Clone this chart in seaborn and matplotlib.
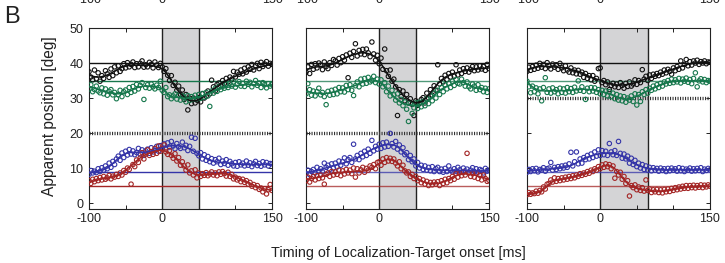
import numpy as np
import pandas as pd
import seaborn as sns
import matplotlib.pyplot as plt

# time samples (ms)
t_fit = np.arange(-100, 151, 5)
t_pts = np.arange(-100, 150.1, 2.5)

# ---------------- panel 1 ----------------
p1_black_fit = [36.6, 36.2, 36.0, 36.0, 36.2, 36.6, 37.1, 37.7, 38.3, 38.8, 39.1, 39.3, 39.4, 39.4, 39.4, 39.4, 39.4,
                39.3, 39.1, 38.8, 38.3, 37.3, 35.8, 34.0, 32.5, 31.3, 30.3, 29.6, 29.2, 29.2, 29.5, 30.2, 31.0, 31.8,
                32.6, 33.3, 34.0, 34.6, 35.2, 35.7, 36.2, 36.7, 37.1, 37.5, 37.9, 38.3, 38.6, 38.9, 39.2, 39.4, 39.6]
p1_green_fit = [33.3, 33.0, 32.6, 32.3, 32.0, 31.7, 31.5, 31.3, 31.2, 31.3, 31.5, 31.9, 32.4, 32.9, 33.2, 33.4, 33.4,
                33.3, 33.2, 33.0, 32.6, 31.7, 30.8, 30.3, 30.2, 30.1, 30.0, 29.9, 29.9, 30.0, 30.2, 30.6, 31.0, 31.5,
                31.9, 32.3, 32.6, 32.9, 33.1, 33.3, 33.5, 33.6, 33.7, 33.8, 33.8, 33.8, 33.7, 33.7, 33.6, 33.5, 33.5]
p1_blue_fit = [8.6, 8.8, 9.0, 9.2, 9.5, 10.0, 10.8, 11.8, 12.8, 13.6, 14.1, 14.4, 14.5, 14.5, 14.5, 14.5, 14.6, 14.8,
               15.1, 15.4, 15.8, 16.1, 16.3, 16.4, 16.4, 16.3, 16.1, 15.7, 15.2, 14.6, 14.0, 13.3, 12.7, 12.2, 11.9,
               11.7, 11.6, 11.5, 11.4, 11.3, 11.2, 11.1, 11.0, 11.0, 11.0, 11.0, 11.0, 11.0, 11.0, 11.0, 11.0]
p1_red_fit = [5.8, 6.2, 6.5, 6.8, 7.0, 7.1, 7.3, 7.6, 8.0, 8.6, 9.4, 10.3, 11.2, 12.1, 12.9, 13.6, 14.1, 14.5, 14.8,
              15.0, 15.0, 14.8, 14.2, 13.4, 12.4, 11.3, 10.3, 9.4, 8.7, 8.2, 8.0, 8.0, 8.1, 8.2, 8.3, 8.4, 8.4, 8.4,
              8.3, 8.0, 7.6, 7.1, 6.6, 6.1, 5.6, 5.1, 4.7, 4.3, 4.0, 3.8, 3.7]

p1_black_pts = [37.5, 36.0, 35.2, 38.0, 35.5, 37.2, 34.8, 36.4, 35.6, 37.8, 36.9, 35.9, 38.3, 36.4, 38.9, 37.2,
                39.2, 37.6, 38.4, 39.8, 38.6, 40.1, 38.9, 39.6, 40.3, 38.7, 39.8, 38.9, 39.9, 40.6, 38.8, 39.5,
                38.9, 40.2, 39.6, 38.6, 40.3, 39.4, 38.7, 39.9, 38.9, 37.6, 38.4, 36.5, 35.0, 36.4, 33.6, 34.5,
                32.2, 33.4, 31.0, 32.3, 29.6, 31.0, 26.6, 29.9, 28.4, 30.0, 28.6, 29.4, 30.1, 28.9, 31.2, 30.0,
                30.5, 32.0, 31.2, 35.1, 33.2, 32.0, 33.9, 34.3, 33.5, 35.0, 34.2, 35.6, 34.6, 36.0, 35.4, 37.6,
                36.0, 37.4, 36.8, 38.0, 36.9, 38.5, 37.4, 38.9, 38.2, 39.6, 38.0, 39.3, 39.9, 38.4, 40.2, 39.0,
                39.7, 40.4, 39.1, 39.9, 39.6]
p1_green_pts = [32.6, 33.8, 31.8, 32.4, 33.4, 32.0, 31.5, 32.9, 31.2, 32.6, 30.8, 31.9, 32.4, 30.9, 31.6, 29.8,
                31.0, 32.2, 30.4, 31.8, 32.3, 31.0, 33.0, 31.6, 33.3, 32.0, 33.9, 32.6, 33.6, 34.4, 29.6, 33.0,
                33.8, 32.8, 34.0, 33.2, 32.6, 33.7, 33.0, 34.8, 32.2, 31.6, 33.0, 30.4, 30.9, 29.8, 30.6, 31.2,
                29.7, 30.8, 29.4, 30.6, 30.2, 28.9, 30.7, 29.3, 30.4, 29.6, 30.8, 29.8, 31.0, 29.9, 31.3, 30.2,
                31.6, 30.6, 27.6, 32.0, 31.4, 32.8, 31.9, 33.3, 32.4, 33.6, 32.8, 33.9, 33.0, 34.2, 33.4, 34.6,
                33.1, 34.0, 34.7, 33.4, 34.2, 33.3, 34.8, 33.9, 34.5, 33.2, 34.1, 35.0, 33.6, 34.3, 33.0, 34.4,
                33.8, 32.9, 34.1, 33.4, 33.9]
p1_blue_pts = [8.2, 9.3, 8.6, 9.1, 8.7, 9.8, 9.0, 10.1, 9.4, 10.6, 9.8, 11.4, 10.2, 11.9, 11.0, 12.6,
               13.4, 12.2, 14.3, 13.0, 14.8, 13.7, 15.3, 14.0, 14.9, 13.8, 14.4, 15.6, 14.0, 15.2, 13.6, 14.9,
               15.4, 14.2, 15.8, 14.6, 15.0, 16.2, 14.8, 16.4, 15.6, 16.9, 15.4, 17.2, 16.0, 17.6, 16.3, 15.5,
               17.0, 16.1, 15.6, 17.4, 15.8, 16.5, 15.0, 16.2, 18.8, 14.8, 18.5, 14.2, 13.5, 14.4, 12.6, 13.8,
               12.2, 13.3, 11.8, 12.7, 11.4, 12.4, 11.8, 12.8, 11.0, 12.0, 11.3, 12.4, 10.8, 11.9, 11.2, 10.6,
               11.6, 10.5, 11.8, 10.9, 11.4, 10.6, 12.0, 10.8, 11.5, 10.4, 11.2, 11.9, 10.7, 11.3, 10.5, 11.8,
               10.9, 11.6, 10.6, 11.3, 11.2]
p1_red_pts = [6.4, 5.6, 6.8, 6.1, 7.0, 6.4, 7.3, 6.6, 7.6, 6.8, 7.2, 7.9, 6.9, 7.7, 7.4, 8.2,
              7.6, 8.6, 8.0, 9.3, 8.8, 10.0, 9.6, 5.4, 11.0, 10.4, 12.3, 11.6, 12.9, 14.4, 12.6, 14.0,
              15.2, 13.6, 14.7, 13.9, 15.6, 14.2, 16.3, 14.8, 15.4, 16.6, 14.6, 13.9, 15.0, 13.6, 12.8, 14.1,
              12.0, 13.0, 10.8, 11.8, 10.6, 9.4, 10.9, 8.6, 9.2, 8.0, 9.5, 7.2, 8.6, 7.6, 8.4, 7.9,
              8.7, 7.8, 8.3, 8.9, 8.0, 8.6, 7.8, 8.9, 8.2, 9.0, 8.4, 7.7, 8.8, 7.6, 8.2, 6.9,
              7.4, 6.6, 7.0, 6.1, 6.8, 5.9, 6.4, 5.4, 5.9, 4.8, 5.3, 4.4, 5.0, 3.9, 4.3, 3.2,
              4.1, 2.6, 3.8, 5.3, 3.6]

# ---------------- panel 2 ----------------
p2_black_fit = [38.1, 38.4, 38.7, 38.9, 39.0, 39.1, 39.3, 39.6, 40.0, 40.5, 41.0, 41.5, 42.0, 42.4, 42.7, 42.9, 42.9,
                42.7, 42.3, 41.6, 40.6, 39.0, 37.3, 35.6, 34.1, 32.7, 31.4, 30.4, 29.6, 29.0, 28.7, 28.7, 29.3, 30.3,
                31.5, 32.9, 34.1, 35.1, 35.9, 36.5, 36.9, 37.2, 37.5, 37.7, 37.9, 38.1, 38.2, 38.3, 38.4, 38.5, 38.6]
p2_green_fit = [31.9, 31.7, 31.5, 31.4, 31.3, 31.3, 31.4, 31.6, 31.8, 32.1, 32.4, 32.8, 33.1, 33.4, 33.8, 34.3, 34.8,
                35.1, 35.2, 35.0, 34.6, 33.8, 32.6, 31.5, 30.4, 29.4, 28.7, 28.2, 28.0, 27.9, 27.8, 28.0, 28.4, 29.0,
                29.8, 30.8, 31.7, 32.5, 33.1, 33.6, 34.0, 34.5, 34.7, 34.5, 34.0, 33.5, 33.1, 32.8, 32.6, 32.5, 32.4]
p2_blue_fit = [8.7, 8.9, 9.1, 9.3, 9.6, 9.9, 10.2, 10.5, 10.8, 11.1, 11.4, 11.7, 12.0, 12.4, 12.9, 13.5, 14.1, 14.7,
               15.3, 15.8, 16.2, 16.5, 16.7, 16.7, 16.6, 16.1, 15.2, 14.0, 12.9, 11.9, 11.0, 10.4, 10.0, 9.7, 9.6,
               9.5, 9.5, 9.4, 9.4, 9.4, 9.3, 9.3, 9.3, 9.3, 9.2, 9.2, 9.2, 9.2, 9.2, 9.2, 9.2]
p2_red_fit = [6.8, 6.9, 7.1, 7.3, 7.5, 7.8, 8.1, 8.4, 8.6, 8.7, 8.8, 8.8, 8.9, 9.0, 9.1, 9.1, 9.2, 9.4, 9.8, 10.5,
              11.3, 12.0, 12.4, 12.5, 12.2, 11.4, 10.4, 9.4, 8.5, 7.7, 7.1, 6.6, 6.1, 5.8, 5.6, 5.5, 5.6, 5.9, 6.3,
              6.8, 7.4, 7.9, 8.2, 8.3, 8.3, 8.2, 8.0, 7.7, 7.4, 7.1, 6.8]

p2_black_pts = [37.4, 38.9, 37.0, 39.6, 38.2, 39.8, 38.6, 40.0, 39.4, 38.1, 40.3, 39.0, 38.4, 40.1, 39.3, 41.0,
                40.6, 39.4, 41.3, 40.1, 41.8, 40.8, 42.3, 35.8, 42.8, 41.6, 43.3, 45.5, 42.0, 43.6, 42.6, 43.9,
                42.4, 44.0, 42.9, 41.8, 46.0, 42.6, 40.8, 42.2, 39.8, 41.4, 38.2, 44.0, 37.8, 36.2, 38.0, 34.8,
                35.4, 33.2, 25.0, 32.4, 30.4, 32.0, 29.2, 31.0, 28.6, 29.8, 28.2, 25.0, 29.2, 27.9, 28.4, 29.6,
                30.1, 28.6, 31.4, 30.0, 32.4, 30.8, 33.5, 32.2, 39.5, 34.0, 35.6, 34.6, 36.5, 35.2, 37.0, 36.0,
                37.4, 36.2, 39.5, 36.6, 38.0, 37.0, 38.4, 37.6, 38.6, 37.4, 38.2, 39.0, 37.8, 38.9, 38.0, 39.2,
                38.3, 39.0, 37.9, 39.6, 38.4]
p2_green_pts = [31.2, 34.1, 32.4, 30.8, 32.0, 30.6, 31.8, 32.8, 30.9, 31.6, 30.4, 28.1, 31.9, 30.8, 32.2, 31.0,
                32.5, 31.2, 33.0, 31.8, 32.9, 31.7, 33.6, 32.4, 33.8, 32.2, 30.7, 33.5, 34.6, 33.2, 35.4, 34.0,
                35.6, 34.2, 35.9, 34.6, 35.0, 36.2, 34.4, 35.4, 34.0, 35.2, 33.2, 34.4, 31.8, 33.4, 30.6, 32.2,
                30.9, 29.4, 31.2, 28.6, 29.6, 27.8, 28.9, 26.8, 23.3, 28.5, 25.6, 27.2, 28.6, 27.0, 28.8, 27.5,
                29.0, 27.8, 29.8, 28.4, 30.6, 29.2, 31.4, 30.0, 32.2, 31.0, 33.0, 31.8, 33.8, 32.6, 34.2, 33.0,
                34.8, 33.6, 35.3, 34.2, 34.0, 35.4, 34.4, 33.4, 34.6, 33.2, 32.6, 34.0, 33.4, 32.2, 33.8, 32.4,
                33.0, 31.8, 32.8, 31.6, 32.6]
p2_blue_pts = [8.4, 9.4, 8.1, 9.0, 9.6, 8.6, 10.2, 9.1, 9.8, 8.9, 11.4, 10.2, 10.8, 9.6, 11.2, 10.0,
               11.4, 10.3, 12.0, 10.8, 11.8, 12.9, 11.2, 12.4, 13.0, 11.6, 16.8, 12.6, 13.6, 12.4, 14.2, 13.2,
               14.8, 13.6, 15.4, 14.2, 17.9, 14.9, 16.2, 15.4, 16.8, 15.6, 17.2, 16.0, 17.4, 16.2, 19.9, 17.0,
               16.0, 17.6, 15.4, 16.6, 14.6, 15.8, 13.8, 14.4, 12.4, 13.6, 11.8, 12.6, 10.6, 11.6, 10.0, 10.8,
               9.6, 10.6, 9.4, 10.2, 9.2, 10.4, 9.0, 9.8, 10.2, 9.0, 9.7, 8.8, 9.9, 9.0, 10.6, 9.4,
               8.9, 9.8, 9.1, 10.2, 9.5, 8.8, 10.0, 9.2, 9.7, 8.7, 9.4, 10.1, 9.0, 9.8, 8.8, 9.6,
               9.3, 8.6, 9.9, 9.1, 9.4]
p2_red_pts = [6.4, 7.4, 6.0, 7.0, 7.6, 6.6, 7.8, 7.0, 8.0, 7.2, 5.4, 8.2, 8.6, 7.6, 9.0, 8.0,
              8.9, 8.2, 9.4, 7.8, 9.2, 8.3, 9.6, 8.6, 9.4, 8.4, 10.0, 7.4, 9.8, 8.6, 9.5, 10.2,
              8.8, 9.9, 9.4, 10.6, 10.2, 11.0, 9.8, 11.6, 11.8, 10.8, 12.6, 11.6, 13.0, 12.0, 12.8, 11.9,
              12.6, 11.4, 10.6, 11.8, 9.8, 10.8, 9.2, 8.6, 8.9, 7.6, 8.2, 7.0, 7.6, 6.4, 7.0, 5.8,
              6.6, 5.4, 6.2, 5.0, 5.9, 5.2, 6.0, 5.4, 6.1, 5.0, 6.4, 5.6, 6.8, 5.8, 7.0, 6.4,
              7.6, 6.8, 8.4, 7.4, 8.6, 7.8, 8.8, 8.0, 14.2, 8.6, 7.6, 8.4, 7.4, 8.6, 7.0, 7.9,
              6.6, 8.0, 7.0, 6.2, 6.5]

# ---------------- panel 3 ----------------
p3_black_fit = [38.1, 38.4, 38.7, 38.9, 39.0, 39.0, 39.0, 38.9, 38.8, 38.7, 38.6, 38.5, 38.2, 37.9, 37.6, 37.2, 36.7,
                36.2, 35.8, 35.4, 35.1, 34.7, 34.3, 34.0, 33.8, 33.7, 33.7, 33.8, 34.0, 34.2, 34.5, 34.9, 35.3, 35.6,
                35.9, 36.3, 36.7, 37.1, 37.5, 37.9, 38.3, 38.7, 39.0, 39.3, 39.6, 39.8, 40.0, 40.1, 40.2, 40.2, 40.2]
p3_green_fit = [34.8, 33.6, 32.8, 32.3, 32.1, 32.0, 32.0, 32.1, 32.1, 32.1, 32.1, 32.1, 32.2, 32.3, 32.4, 32.5, 32.5,
                32.4, 32.3, 32.2, 32.0, 31.7, 31.4, 31.0, 30.6, 30.2, 29.9, 29.7, 29.8, 30.1, 30.5, 31.0, 31.6, 32.1,
                32.6, 33.1, 33.6, 34.0, 34.3, 34.5, 34.7, 34.8, 34.9, 34.9, 34.9, 34.9, 34.9, 34.9, 34.9, 34.9, 34.9]
p3_blue_fit = [9.2, 9.3, 9.3, 9.4, 9.5, 9.6, 9.7, 9.8, 9.9, 10.0, 10.1, 10.3, 10.7, 11.2, 11.8, 12.4, 12.9, 13.3,
               13.6, 13.9, 14.1, 14.2, 14.3, 14.3, 14.1, 13.8, 13.4, 12.8, 12.1, 11.4, 10.9, 10.5, 10.2, 9.9, 9.8,
               9.7, 9.6, 9.6, 9.5, 9.5, 9.5, 9.5, 9.5, 9.5, 9.5, 9.5, 9.5, 9.5, 9.5, 9.5, 9.5]
p3_red_fit = [2.6, 2.7, 2.8, 3.0, 3.5, 4.4, 5.4, 6.1, 6.5, 6.7, 6.9, 7.1, 7.3, 7.6, 7.9, 8.2, 8.5, 8.9, 9.3, 9.8,
              10.2, 10.6, 10.8, 10.6, 9.8, 8.6, 7.3, 6.1, 5.2, 4.6, 4.2, 3.9, 3.7, 3.5, 3.4, 3.3, 3.3, 3.4, 3.5, 3.7,
              3.9, 4.1, 4.3, 4.4, 4.5, 4.6, 4.7, 4.7, 4.8, 4.8, 4.8]

p3_black_pts = [37.6, 38.8, 37.9, 39.0, 38.2, 39.4, 38.5, 39.9, 38.8, 39.6, 38.4, 40.1, 39.2, 38.3, 39.7, 38.8,
                39.5, 38.2, 39.9, 38.6, 37.8, 39.2, 38.0, 37.4, 38.6, 37.2, 38.0, 36.9, 37.9, 36.8, 37.4, 35.9,
                37.0, 35.6, 36.4, 35.2, 36.4, 34.8, 35.6, 38.4, 38.6, 34.4, 35.0, 33.8, 34.6, 32.4, 33.6, 34.2,
                33.2, 34.0, 33.0, 34.4, 33.6, 32.8, 34.2, 33.3, 34.6, 33.4, 34.0, 35.2, 33.9, 35.0, 34.4, 38.1,
                35.4, 36.2, 35.0, 36.6, 35.6, 36.8, 36.2, 37.0, 36.4, 37.4, 36.8, 38.0, 37.2, 38.2, 37.6, 36.8,
                38.6, 37.8, 39.0, 38.2, 40.6, 38.6, 39.6, 41.0, 39.2, 40.4, 39.4, 40.6, 40.0, 40.8, 39.6, 40.4,
                40.0, 40.6, 39.8, 40.3, 40.2]
p3_green_pts = [34.8, 33.2, 31.5, 33.4, 31.8, 32.9, 31.2, 32.6, 29.2, 33.0, 35.8, 31.6, 32.6, 31.4, 32.9, 31.8,
                32.4, 31.2, 32.8, 31.6, 32.6, 31.4, 33.0, 31.8, 32.7, 31.6, 33.1, 32.0, 34.9, 32.2, 33.2, 31.9,
                29.6, 32.8, 31.8, 33.0, 32.0, 32.9, 31.6, 32.4, 31.2, 32.2, 31.0, 32.0, 30.6, 31.8, 30.4, 31.4,
                29.8, 31.0, 29.4, 30.6, 29.2, 30.4, 28.8, 30.0, 29.4, 30.6, 29.0, 31.2, 28.0, 31.0, 29.0, 31.8,
                31.0, 32.4, 31.4, 32.8, 32.2, 33.4, 32.6, 33.8, 33.0, 34.2, 33.4, 34.6, 34.0, 35.0, 34.2, 35.4,
                34.4, 35.2, 34.6, 35.6, 34.3, 35.4, 34.8, 35.7, 34.5, 35.3, 34.1, 35.6, 37.2, 33.2, 34.9, 35.5,
                34.6, 35.3, 34.4, 35.0, 34.8]
p3_blue_pts = [8.8, 9.6, 9.0, 9.8, 9.2, 9.9, 8.9, 9.6, 9.4, 10.1, 9.1, 9.8, 10.0, 11.6, 9.4, 10.2,
               9.6, 10.4, 9.8, 10.6, 10.0, 10.8, 10.2, 11.2, 14.5, 10.6, 11.8, 14.6, 11.2, 12.6, 11.4, 13.0,
               12.4, 13.6, 12.6, 14.0, 13.0, 14.6, 13.4, 15.2, 13.6, 15.0, 13.8, 14.8, 13.6, 17.0, 14.6, 13.8,
               15.0, 13.6, 17.6, 14.2, 12.8, 14.0, 12.6, 13.4, 11.4, 12.8, 11.0, 12.2, 10.4, 11.4, 10.0, 11.0,
               9.6, 10.6, 9.4, 10.2, 9.2, 10.1, 9.4, 9.9, 9.1, 10.0, 9.3, 9.8, 9.0, 9.9, 9.2, 10.0,
               9.4, 9.8, 9.1, 10.1, 9.2, 9.9, 9.0, 9.7, 9.4, 10.0, 9.1, 9.8, 9.2, 9.9, 9.3, 10.1,
               9.0, 9.7, 9.3, 9.9, 9.5]
p3_red_pts = [2.4, 3.0, 2.5, 2.9, 2.7, 3.4, 2.8, 3.6, 3.2, 4.6, 4.0, 5.4, 5.6, 6.6, 6.0, 7.2,
              6.2, 7.0, 6.4, 7.2, 6.6, 7.4, 6.8, 7.6, 7.0, 7.8, 7.2, 8.0, 7.6, 8.4, 7.9, 8.6,
              8.2, 9.0, 8.5, 9.4, 9.0, 9.8, 9.4, 10.4, 9.8, 10.9, 10.2, 11.2, 10.4, 11.0, 9.8, 10.6,
              7.1, 9.0, 8.0, 8.8, 6.8, 7.6, 5.6, 6.4, 2.0, 5.0, 4.4, 5.2, 3.8, 4.6, 3.6, 4.4,
              3.4, 6.6, 3.6, 4.0, 3.0, 3.8, 3.2, 3.9, 3.0, 3.8, 2.9, 3.9, 3.2, 4.0, 3.3, 4.2,
              3.6, 4.4, 3.8, 4.6, 4.0, 4.8, 4.2, 5.0, 4.2, 5.0, 4.4, 5.1, 4.3, 5.0, 4.5, 5.2,
              4.4, 5.1, 4.6, 5.2, 4.8]

# reference levels, dotted level and shaded window end per panel
ref_black = [40, 40, 40]
ref_green = [35, 35, 35]
ref_blue = [9, 9, 9]
ref_red = [5, 5, 5]
dotted_level = [20, 20, 30]
window_end = [50, 50, 65]

BLACK = "#111111"
GREEN = "#16774c"
BLUE = "#3434a8"
RED = "#a32525"

sns.set_style("ticks")
plt.rcParams["font.family"] = ["Liberation Sans", "DejaVu Sans"]

panels = [
    (p1_black_pts, p1_green_pts, p1_blue_pts, p1_red_pts, p1_black_fit, p1_green_fit, p1_blue_fit, p1_red_fit),
    (p2_black_pts, p2_green_pts, p2_blue_pts, p2_red_pts, p2_black_fit, p2_green_fit, p2_blue_fit, p2_red_fit),
    (p3_black_pts, p3_green_pts, p3_blue_pts, p3_red_pts, p3_black_fit, p3_green_fit, p3_blue_fit, p3_red_fit),
]
lefts = [89 / 725, 306 / 725, 527 / 725]

fig = plt.figure(figsize=(7.25, 2.63), dpi=100)

for i, pdata in enumerate(panels):
    ax = fig.add_axes([lefts[i], 1 - 209 / 263, 183 / 725, 181 / 263])
    pts = pdata[:4]
    fits = pdata[4:]
    colors = [BLACK, GREEN, BLUE, RED]
    refs = [ref_black[i], ref_green[i], ref_blue[i], ref_red[i]]

    ax.axvspan(0, window_end[i], color="#d4d4d6", lw=0, zorder=0)
    ax.axvline(0, color="#222222", lw=1.0, zorder=1)
    ax.axvline(window_end[i], color="#222222", lw=1.0, zorder=1)
    ax.axhline(dotted_level[i], color="#333333", lw=2.4, ls=(0, (0.33, 0.42)), zorder=1)

    alpha_ref = 1.0 if i == 0 else 0.75
    for col, ref in zip(colors, refs):
        ax.axhline(ref, color=col, lw=1.0, alpha=alpha_ref if col != BLACK else 1.0, zorder=2)

    for col, y in zip(colors, pts):
        df = pd.DataFrame({"t": t_pts, "pos": y})
        sns.scatterplot(data=df, x="t", y="pos", ax=ax, marker="o", s=10,
                        facecolor="none", edgecolor=col, linewidth=0.8, zorder=3, legend=False)
    for col, y in zip(colors, fits):
        df = pd.DataFrame({"t": t_fit, "pos": y})
        sns.lineplot(data=df, x="t", y="pos", ax=ax, color=col, lw=1.1, zorder=4, legend=False)

    ax.set_xlim(-100, 150)
    ax.set_ylim(-1.7, 50)
    ax.set_xticks([-100, -50, 0, 50, 100, 150])
    ax.set_xticklabels(["-100", "", "0", "", "", "150"])
    ax.set_yticks([0, 10, 20, 30, 40, 50])
    if i == 0:
        ax.set_yticklabels(["0", "10", "20", "30", "40", "50"])
    else:
        ax.set_yticklabels([])
    ax.tick_params(direction="in", length=3, width=0.7, top=True, right=True,
                   labelsize=9, colors="#222222", pad=4)
    ax.tick_params(axis="x", pad=3)
    ax.set_xlabel("")
    ax.set_ylabel("")
    for sp in ax.spines.values():
        sp.set_visible(True)
        sp.set_linewidth(0.8)
        sp.set_color("#222222")

    # tick labels of the panel row above, cut by the top edge as in the source figure
    for tv, lab in [(-100, "-100"), (0, "0"), (150, "150")]:
        fx = lefts[i] + (tv + 100) / 250 * 183 / 725
        fig.text(fx, 1.0, lab, ha="center", va="center", fontsize=9, color="#222222")

fig.text(50 / 725, 1 - 116 / 263, "Apparent position [deg]", rotation=90,
         ha="center", va="center", fontsize=11.2, color="#222222")
fig.text(398 / 725, 1 - 253 / 263, "Timing of Localization-Target onset [ms]",
         ha="center", va="center", fontsize=10.4, color="#222222")
fig.text(4 / 725, 1 - 17 / 263, "B", ha="left", va="center", fontsize=17, color="#222222")

fig.savefig("out.png", dpi=100)
